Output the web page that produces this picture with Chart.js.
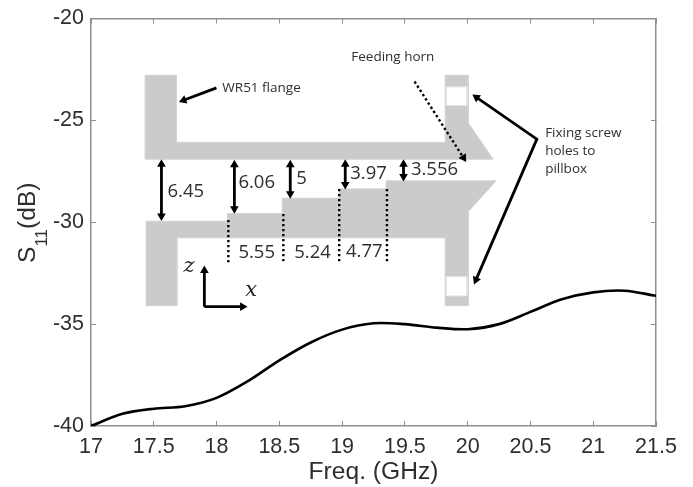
<!DOCTYPE html>
<html><head><meta charset="utf-8">
<script src="https://cdn.jsdelivr.net/npm/chart.js@4"></script>
<style>html,body{margin:0;padding:0;background:#fff}#w{width:693px;height:487px}</style>
</head><body><div id="w"><canvas id="c" width="693" height="487"></canvas></div>
<script>
// S11 curve
const freq = [17,17.25,17.5,17.75,18,18.25,18.5,18.75,19,19.25,19.5,19.75,20,20.25,20.5,20.75,21,21.25,21.5];
const s11  = [-40,-39.4,-39.15,-39.03,-38.62,-37.8,-36.78,-35.9,-35.27,-34.96,-35.0,-35.17,-35.25,-35.0,-34.4,-33.78,-33.44,-33.36,-33.61];
const xTicks = [17,17.5,18,18.5,19,19.5,20,20.5,21,21.5];
const yTicks = [-40,-35,-30,-25,-20];

// inset structure outlines (axis units)
const upperWall = [[17.431,-22.784],[17.68,-22.784],[17.68,-26.079],[19.821,-26.079],[19.821,-22.784],[20.004,-22.784],[20.004,-25.122],[20.203,-26.904],[17.431,-26.904]];
const lowerWall = [[17.439,-29.948],[18.086,-29.948],[18.086,-29.575],[18.524,-29.575],[18.524,-28.819],[18.977,-28.819],[18.977,-28.362],[19.351,-28.362],[19.351,-27.969],[20.227,-27.969],[20.004,-29.477],[20.004,-34.093],[19.821,-34.093],[19.821,-30.763],[17.684,-30.763],[17.684,-34.093],[17.439,-34.093]];
const upperHole = [[19.829,-23.354],[19.996,-23.354],[19.996,-24.272],[19.829,-24.272]];
const lowerHole = [[19.829,-32.669],[19.996,-32.669],[19.996,-33.616],[19.829,-33.616]];

// arrows: points and which ends carry a head
const flangeArrow = [[17.999,-23.403],[17.737,-24.011]];
const gapArrows = [
  [[17.561,-27.158],[17.561,-29.699]],
  [[18.142,-27.183],[18.142,-29.335]],
  [[18.587,-27.183],[18.587,-28.599]],
  [[19.025,-27.158],[19.025,-28.142]],
  [[19.489,-27.158],[19.489,-27.749]]
];
const screwArrow = [[20.07,-23.874],[20.551,-25.922],[20.066,-32.827]];
const zArrow = [[17.903,-34.142],[17.903,-32.363]];
const xArrow = [[17.903,-34.142],[18.207,-34.142]];
const hornDots = [[19.577,-23.093],[19.967,-26.836]];
const stepDots = [
  [[18.094,-29.885],[18.094,-32.045]],
  [[18.532,-29.59],[18.532,-32.02]],
  [[18.977,-28.362],[18.977,-31.932]],
  [[19.357,-28.362],[19.357,-32.045]]
];

// inset texts
const smallTexts = ["WR51 flange","Feeding horn","Fixing screw","holes to","pillbox"];
const smallX = [18.046,19.073,20.617,20.617,20.617];
const smallY = [-23.403,-21.881,-25.612,-26.496,-27.38];
const dimTexts = ["6.45","6.06","5","5.55","5.24","3.97","3.556","4.77"];
const dimX = [17.609,18.174,18.635,18.174,18.619,19.065,19.548,19.031];
const dimY = [-28.51,-28.068,-27.871,-31.49,-31.5,-27.626,-27.429,-31.47];
const axisTexts = ["z","x"];
const axisX = [17.736,18.229];
const axisY = [-32.178,-33.371];

const GREY='#cbcbcb', AXIS='#8f8f8f', INK='#2e2e2e';
const toXY = a => a.map(p=>({x:p[0],y:p[1]}));
function polygon(pts,color,order){
  return {data:toXY(pts.concat([pts[0]])),showLine:true,fill:'shape',backgroundColor:color,borderColor:color==='#ffffff'?'#e2e2e2':'#d2d2d2',borderWidth:1,pointRadius:0,tension:0,order};
}
function arrowAngle(c){
  const d=c.dataset.data,i=c.dataIndex,sx=c.chart.scales.x,sy=c.chart.scales.y;
  const o=i===0?d[1]:d[i-1],p=d[i];
  const dx=sx.getPixelForValue(p.x)-sx.getPixelForValue(o.x),dy=sy.getPixelForValue(p.y)-sy.getPixelForValue(o.y);
  return Math.atan2(dx,-dy)*180/Math.PI;
}
function arrow(pts,heads,extra){
  return Object.assign({data:toXY(pts),showLine:true,borderColor:'#000',borderWidth:2.8,backgroundColor:'#000',tension:0,order:1,
    borderJoinStyle:'miter',borderCapStyle:'butt',pointStyle:'triangle',pointBorderWidth:0,
    pointBackgroundColor:'#000',pointRadius:c=>heads.includes(c.dataIndex)?5:0,pointRotation:arrowAngle},extra||{});
}
function dots(pts){
  return {data:toXY(pts),showLine:true,borderColor:'#000',borderWidth:2.4,borderDash:[2.4,2.6],pointRadius:0,tension:0,order:1};
}
const datasets=[
  polygon(upperWall,GREY,5),polygon(lowerWall,GREY,5),
  polygon(upperHole,'#ffffff',4),polygon(lowerHole,'#ffffff',4),
  arrow(flangeArrow,[1]),
  ...gapArrows.map(a=>arrow(a,[0,1])),
  arrow(screwArrow,[0,2]),
  arrow(zArrow,[1]),arrow(xArrow,[1]),
  dots(hornDots),
  arrow(hornDots,[1],{borderColor:'rgba(0,0,0,0)'}),
  ...stepDots.map(dots),
  {data:freq.map((f,i)=>({x:f,y:s11[i]})),showLine:true,borderColor:'#000',borderWidth:2.6,pointRadius:0,tension:0.33,order:0}
];
const textPlugin={id:'insetText',afterDatasetsDraw(ch){
  const c=ch.ctx,sx=ch.scales.x,sy=ch.scales.y;
  function put(t,xs,ys,font,col){
    c.save();c.font=font;c.fillStyle=col;c.textAlign='left';c.textBaseline='middle';
    t.forEach((s,i)=>c.fillText(s,sx.getPixelForValue(xs[i]),sy.getPixelForValue(ys[i])));c.restore();
  }
  put(smallTexts,smallX,smallY,'13.5px "Open Sans"',INK);
  put(dimTexts,dimX,dimY,'18.5px "Open Sans"',INK);
  put(axisTexts,axisX,axisY,'italic 21px "DejaVu Serif"','#222');
  // y-axis title with a true subscript
  c.save();c.translate(35,263);c.rotate(-Math.PI/2);c.fillStyle=INK;c.textAlign='left';c.textBaseline='alphabetic';
  c.font='24.6px "Liberation Sans"';c.fillText('S',0,0);
  const w=c.measureText('S').width;
  c.font='17px "Liberation Sans"';c.fillText('11',w,12);
  const w2=c.measureText('11').width;
  c.font='24.6px "Liberation Sans"';c.fillText('(dB)',w+w2,0);
  c.restore();
}};
const fix=(ticks)=>s=>{s.ticks=ticks.map(v=>({value:v}));};
const tickFont={family:'"Liberation Sans"',size:21.5};
const commonGrid={drawOnChartArea:false,drawTicks:true,tickLength:-5,color:AXIS,lineWidth:1};
const border={display:true,color:AXIS,width:1.5};
const noPad=s=>{s.paddingTop=0;s.paddingBottom=0;s.paddingLeft=0;s.paddingRight=0;};
new Chart(document.getElementById('c'),{
  type:'scatter',
  data:{datasets},
  plugins:[textPlugin],
  options:{
    responsive:false,animation:false,events:[],
    layout:{padding:0},
    plugins:{legend:{display:false},tooltip:{enabled:false}},
    scales:{
      x:{type:'linear',position:'bottom',min:17,max:21.5,afterBuildTicks:fix(xTicks),
        afterFit:s=>{s.height=61;noPad(s)},grid:commonGrid,border,
        ticks:{font:tickFont,color:INK,padding:13,maxRotation:0,autoSkip:false,callback:v=>String(v)},
        title:{display:true,text:'Freq. (GHz)',font:{family:'"Liberation Sans"',size:24.6},color:INK,padding:0}},
      y:{type:'linear',position:'left',min:-40,max:-20,afterBuildTicks:fix(yTicks),
        afterFit:s=>{s.width=91;noPad(s)},grid:commonGrid,border,
        ticks:{font:tickFont,color:INK,padding:12,autoSkip:false,callback:v=>String(v)}},
      x2:{type:'linear',position:'top',min:17,max:21.5,afterBuildTicks:fix(xTicks),
        afterFit:s=>{s.height=18.5;noPad(s)},grid:commonGrid,border,ticks:{callback:()=>''},title:{display:false}},
      y2:{type:'linear',position:'right',min:-40,max:-20,afterBuildTicks:fix(yTicks),
        afterFit:s=>{s.width=37;noPad(s)},grid:commonGrid,border,ticks:{callback:()=>''},title:{display:false}}
    }
  }
});
</script></body></html>
